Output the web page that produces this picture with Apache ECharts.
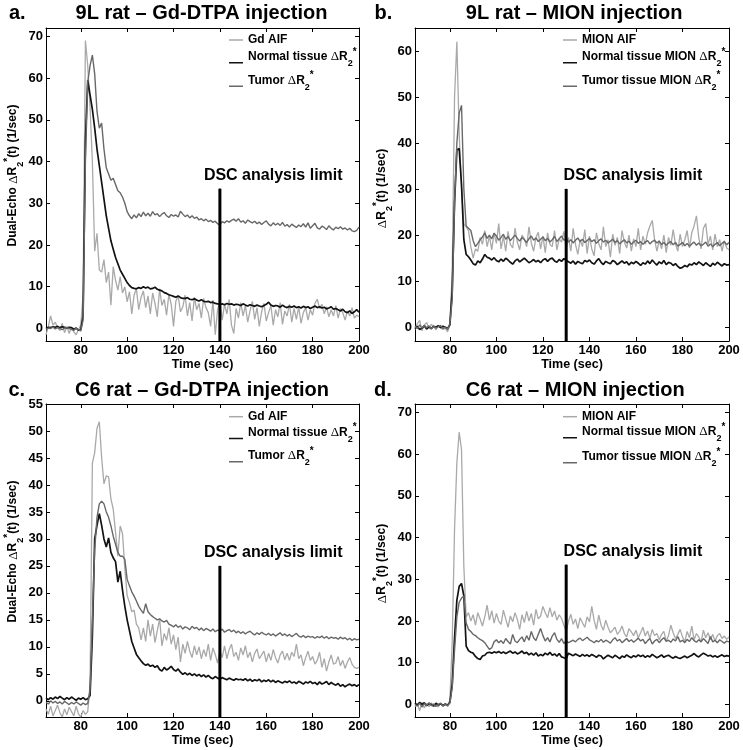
<!DOCTYPE html>
<html><head><meta charset="utf-8">
<script src="https://cdn.jsdelivr.net/npm/echarts@6/dist/echarts.min.js"></script>
<style>html,body{margin:0;padding:0;background:#fff}#c{width:743px;height:750px}</style>
</head><body><div id="c"></div>
<script>
// ---------- DATA ----------
const time = [65,66,67,68,69,
70,71,72,73,74,75,76,77,78,79,
80,81,82,83,84,85,86,87,88,89,
90,91,92,93,94,95,96,97,98,99,
100,101,102,103,104,105,106,107,108,109,
110,111,112,113,114,115,116,117,118,119,
120,121,122,123,124,125,126,127,128,129,
130,131,132,133,134,135,136,137,138,139,
140,141,142,143,144,145,146,147,148,149,
150,151,152,153,154,155,156,157,158,159,
160,161,162,163,164,165,166,167,168,169,
170,171,172,173,174,175,176,177,178,179,
180,181,182,183,184,185,186,187,188,189,
190,191,192,193,194,195,196,197,198,199,
200];

// Panel a: 9L rat - Gd-DTPA
const aAIF = [-1.5,0.5,3.0,0.8,1.5,
0.2,-0.5,1.2,-1.0,0.5,-1.2,0.3,-0.8,-1.5,-0.3,
0.8,8,69,63,53,40,18.5,22.8,14,13.5,
16.5,11,13.5,5.6,14.8,11.5,9.2,12.4,8.5,10,
6.4,8.8,3.5,8,9.5,4.5,7.5,9.0,5.0,7.8,
3.5,8.5,6.0,2.8,9.5,5.5,7.0,3.2,8.2,5.8,
0.5,6.5,7.8,4.0,5.2,8.0,3.0,6.2,1.8,7.5,
4.5,6.0,2.5,7.2,5.0,3.8,0.5,6.8,-1.5,4.5,
6.5,2.0,5.8,3.5,7.0,0.8,-1.2,4.8,2.5,6.2,
3.0,5.5,1.5,4.2,6.5,2.2,5.0,0.5,4.0,6.0,
1.8,3.8,5.5,0.8,4.5,2.8,6.2,1.0,4.2,3.0,
5.8,1.5,4.8,2.2,5.2,1.2,3.8,5.0,2.0,4.5,
3.2,6.0,7.0,4.8,5.8,3.5,5.2,2.8,4.5,3.0,
5.5,2.5,4.8,3.8,2.0,4.2,3.0,5.0,2.5,3.2,
2.8];
const aNormal = [0.0,0.3,0.2,0.4,0.3,
0.5,0.2,0.4,0.3,0.1,0.3,0.2,-0.2,0.1,-0.4,
-0.3,3,45,59.5,56,52.5,48,43,39,35,
31,27,24,21,19,17,15.5,14,13,12,
11,10.3,9.8,9.6,9.5,9.8,9.6,10.0,9.7,9.9,
9.5,9.6,9.9,9.4,9.2,9.0,8.6,8.4,8.1,7.9,
7.7,7.5,7.8,7.4,7.2,7.2,7.4,7.0,6.9,7.1,
6.8,6.6,6.9,6.5,6.4,6.5,6.2,6.3,6.0,5.9,
5.8,5.9,5.7,6.0,5.8,5.9,5.6,5.8,5.7,5.5,
5.9,5.6,5.4,5.7,5.5,5.3,5.6,5.4,5.2,5.5,
5.8,6.3,5.6,5.3,5.5,5.4,5.1,5.6,5.2,5.0,
5.3,5.1,5.4,5.0,5.2,4.9,5.3,5.0,5.2,4.8,
5.1,5.4,5.0,5.2,4.9,5.1,4.7,4.9,5.2,4.6,
4.8,4.5,4.2,4.6,4.0,3.8,4.2,3.6,4.0,4.5,
3.9];
const aTumor = [-0.2,0.1,0.0,0.3,-0.1,
0.2,0.0,-0.3,0.1,0.2,0.0,-0.2,-0.5,0.1,-0.3,
-0.6,2,40,59,63,65.5,61,52,48,49.2,
43,38.5,37,35.5,36,34.5,33,32.5,31.5,30,
28,27,26.3,27.2,26.5,27.5,26.8,27.9,27.0,27.6,
26.9,28.0,27.2,27.5,26.8,27.4,27.8,27.0,26.6,27.3,
26.9,27.2,26.7,28.1,27.4,26.8,27.2,26.5,27.0,26.4,
26.7,26.0,26.3,25.8,26.2,25.6,25.9,25.4,25.7,25.1,
24.9,25.6,25.3,25.8,25.5,25.9,26.2,25.7,26.3,25.5,
25.8,25.2,26.0,25.6,25.3,25.7,25.1,25.5,24.9,25.4,
25.8,25.0,24.6,25.3,24.8,25.2,24.7,25.4,24.5,24.9,
24.3,25.0,24.6,24.2,24.8,24.4,25.1,24.3,25.3,24.0,
24.6,25.2,24.1,23.8,24.5,24.2,23.7,24.6,24.0,23.6,
24.3,23.9,24.4,23.8,24.1,23.6,24.0,23.4,23.2,23.5,
24.3];

// Panel b: 9L rat - MION
const bAIF = [-0.5,0.8,1.5,-0.8,0.5,
1.0,-0.3,0.6,0.2,-0.6,0.4,0.0,-0.5,-0.2,-1.0,
0.5,12,50,62,42,30,22.5,21.8,21.0,17.5,
15.0,17.0,16.5,19.5,18.0,21.0,17.5,19.8,16.8,20.5,
18.2,22.5,17.0,19.8,16.5,20.8,18.0,17.2,21.5,18.5,
16.8,20.0,19.2,17.5,21.8,18.3,16.5,19.5,20.6,17.0,
19.8,16.2,20.5,18.0,17.5,21.0,16.8,19.2,18.5,20.8,
17.2,19.5,16.5,21.5,18.0,15.8,19.0,17.5,21.2,16.0,
19.8,17.0,15.5,20.5,18.2,16.8,21.8,17.5,19.0,15.2,
20.2,17.8,19.5,16.0,21.0,18.5,17.2,20.0,16.5,19.2,
17.5,21.5,16.8,19.8,18.0,20.5,22.0,23.2,19.0,16.5,
18.8,17.0,20.0,16.2,19.5,17.8,21.2,18.0,16.5,20.2,
17.5,19.0,21.0,17.2,20.5,22.0,24.2,19.5,17.0,21.5,
22.5,18.0,19.8,16.8,20.2,17.5,19.0,16.5,18.8,17.2,
16.8];
const bNormal = [-0.3,0.2,-0.5,-0.2,0.3,
-0.4,0.1,-0.3,0.2,0.0,0.3,-0.1,0.2,0.0,-0.3,
0.5,8,27,38.5,38.8,31,19,15.8,15.3,14.6,
13.8,13.5,14.4,14.0,14.8,15.8,15.2,15.0,14.6,15.1,
14.5,14.2,14.8,14.3,15.0,14.6,14.1,13.7,14.4,14.8,
14.2,14.6,15.0,14.5,14.0,14.3,14.7,14.2,14.5,14.0,
14.6,14.9,14.3,14.8,15.0,14.4,14.1,14.7,14.3,14.9,
14.5,14.2,13.9,14.4,13.7,14.3,14.0,13.8,14.5,14.2,
14.6,14.0,13.7,14.4,14.9,14.1,13.6,14.3,14.0,13.8,
14.5,14.2,13.6,14.0,14.4,13.9,14.2,13.5,14.1,13.8,
14.3,13.9,13.4,14.0,13.7,14.4,13.8,14.6,14.0,13.5,
14.2,13.8,14.5,13.6,14.1,13.9,13.4,13.8,13.2,12.8,
13.0,13.4,13.1,13.7,13.5,14.0,13.6,14.2,13.8,13.4,
14.0,13.6,13.2,13.9,13.5,14.1,13.7,13.3,13.8,13.5,
13.6];
const bTumor = [0.2,-0.3,0.5,-0.2,0.4,
-0.1,0.3,-0.4,0.2,-0.2,0.1,0.4,-0.3,0.0,-0.5,
0.8,6,27,40,46.5,48.2,30,22,21.5,21.0,
18.8,17.5,18.2,19.0,19.6,20.5,19.3,20.0,19.2,20.4,
19.8,18.9,19.5,20.2,19.1,19.7,18.8,19.4,20.0,19.3,
18.7,19.5,19.0,18.4,19.2,19.8,18.9,19.4,18.6,19.1,
19.6,18.8,19.3,18.5,19.0,19.7,18.6,19.2,19.8,18.9,
19.2,18.5,19.0,18.3,18.9,19.4,18.6,19.1,18.4,18.8,
19.3,18.6,19.0,18.2,18.8,19.2,18.5,18.9,18.3,18.7,
19.1,18.4,18.8,18.1,18.6,19.0,18.3,18.7,18.0,18.5,
18.9,18.2,18.6,18.0,18.5,18.8,18.1,18.6,18.9,18.3,
18.7,18.0,18.4,17.8,18.3,18.6,17.9,18.4,17.6,18.0,
18.4,17.7,18.2,17.6,18.1,18.5,17.8,18.3,17.7,18.0,
18.5,17.6,18.1,17.5,18.0,18.4,17.7,18.2,18.6,17.9,
18.4];

// Panel c: C6 rat - Gd-DTPA
const cAIF = [-1.5,-2.5,-1.0,-2.8,-1.8,
-0.8,-2.2,-3.0,-1.5,-2.6,-1.2,-2.0,-2.8,-1.0,-2.4,
-3.0,-1.8,-2.5,-2.0,3.0,44,46,50.5,51.7,45,
40.2,41.7,41.5,37.4,35.5,31.2,26.8,32.4,31.0,24.5,
19.5,18.2,16.5,16.8,14.2,13.5,11.3,13.5,11.0,15.0,
12.0,14.2,10.8,13.0,15.2,10.2,12.5,11.2,13.5,10.5,
12.2,9.5,11.8,7.2,10.5,8.8,11.0,9.2,8.0,10.2,
8.5,10.0,7.8,9.5,8.2,10.5,7.5,9.8,8.6,7.0,
9.2,8.0,10.2,7.8,9.5,10.5,8.2,9.0,7.5,9.8,
8.5,10.2,8.0,9.0,7.2,8.8,9.6,7.8,8.5,9.2,
7.2,8.8,7.5,9.5,8.0,7.0,8.5,9.2,7.6,8.8,
7.5,9.0,8.2,10.5,7.8,8.5,6.5,8.0,9.2,7.5,
8.2,6.8,7.5,9.0,6.2,7.8,5.5,7.2,8.5,6.8,
7.0,8.2,6.5,7.5,6.0,7.2,8.0,6.8,6.2,6.0,
6.2];
const cNormal = [0.5,0.2,0.6,0.3,0.7,
0.4,0.8,0.5,0.2,0.6,0.3,0.7,0.4,0.1,0.5,
0.3,0.6,0.2,0.4,1.0,12,30,32.5,34.7,32.5,
30,28.5,30.2,27.5,26.5,25.8,22,24,20.5,17.5,
15,13,11,9.8,8.6,8.0,7.4,6.9,6.6,6.8,
6.4,6.6,6.2,6.5,5.8,5.5,6.2,5.7,6.0,6.4,
5.8,5.5,5.9,5.3,4.9,5.2,4.8,5.1,4.7,5.0,
4.6,4.9,4.5,4.8,4.4,4.7,4.3,4.1,4.5,4.2,
4.0,4.3,4.1,3.9,4.2,4.0,3.8,4.1,3.9,4.0,
3.8,4.1,3.7,4.0,3.6,3.9,3.7,4.0,3.5,3.8,
3.6,3.9,3.5,3.8,3.4,3.7,3.5,3.3,3.6,3.4,
3.7,3.3,3.5,3.2,3.6,3.4,3.1,3.5,3.3,3.6,
3.2,3.4,3.0,3.5,3.1,3.3,3.6,3.0,3.4,3.1,
2.9,3.2,2.7,3.0,2.6,2.9,3.1,2.8,3.0,2.7,
3.0];
const cTumor = [-0.3,-0.6,0.0,-0.4,-0.1,
-0.5,-0.2,-0.6,-0.1,-0.4,-0.7,-0.3,-0.6,-0.2,-0.5,
-0.8,-0.4,-0.7,-0.5,2.0,15,28,34,36.5,37,
36.5,35,34,32.4,30.5,29,27.5,26.8,26.8,26.2,
22.5,21.3,20.2,19.4,18.5,17.5,16.8,16.2,18.0,16.5,
16.0,15.6,15.3,15.0,15.2,14.8,14.6,14.9,14.2,14.0,
13.7,14.1,13.6,13.9,13.3,13.7,13.5,13.2,13.8,13.4,
13.6,13.1,13.5,13.0,13.4,13.2,12.9,13.3,12.8,13.1,
12.9,13.3,12.7,13.0,13.2,12.8,13.1,12.6,12.9,12.5,
12.8,12.4,12.7,12.9,12.5,12.2,12.6,12.3,12.7,12.4,
12.2,12.5,12.1,12.4,12.0,12.3,12.6,12.1,12.4,12.0,
12.3,11.9,12.2,12.5,12.0,11.8,12.1,11.7,12.0,11.8,
11.9,11.6,11.9,11.7,12.0,11.6,11.9,11.5,11.8,11.6,
11.7,11.4,11.8,11.5,11.7,11.3,11.6,11.2,11.5,11.3,
11.4];

// Panel d: C6 rat - MION
const dAIF = [-0.5,0.3,-1.5,0.5,-0.8,
0.2,-0.5,0.4,-0.3,0.1,-0.6,0.3,-0.2,0.0,-0.4,
1.0,15,42,58,65.3,61,33,21,22,20,
21.5,19.0,22.0,20.5,18.8,21.0,23.8,20.2,22.5,19.5,
21.8,20.0,19.2,22.6,20.5,18.5,21.2,19.8,22.0,20.4,
18.0,21.5,19.6,22.3,20.0,21.8,19.0,22.8,20.5,21.2,
23.5,22.0,20.8,23.2,21.0,22.4,20.2,21.5,20.6,19.0,
17.5,20.0,21.6,19.2,20.5,18.2,20.8,19.6,18.5,21.0,
19.8,23.5,20.2,18.0,21.4,19.0,17.8,20.2,18.5,17.2,
17.8,18.5,16.8,17.5,18.8,17.0,16.2,18.2,17.4,16.5,
17.8,16.0,17.2,18.5,16.4,17.6,15.8,18.0,16.5,17.0,
15.5,16.8,17.5,15.2,16.5,19.0,17.2,15.8,16.8,18.0,
16.2,15.0,17.5,16.0,18.8,15.5,17.0,16.2,15.0,17.8,
16.0,17.2,15.5,16.8,15.2,16.5,17.0,15.8,16.4,15.6,
16.2];
const dNormal = [0.3,-0.2,0.5,0.0,0.4,
-0.3,0.2,0.0,-0.4,0.3,-0.1,0.2,-0.3,0.1,-0.2,
0.5,5,16,25,28.3,29,26,14,12.9,12.5,
12.3,11.5,11.0,10.8,11.6,11.8,12.4,12.5,12.3,12.6,
12.4,12.7,12.3,12.6,12.2,12.5,12.8,12.3,12.6,12.1,
12.4,12.8,12.2,12.5,11.9,12.3,11.8,12.4,11.6,12.0,
11.7,12.3,11.9,12.5,11.8,12.1,11.6,12.2,11.4,11.2,
11.0,12.3,12.0,11.7,12.1,11.8,11.5,12.0,11.6,11.9,
11.5,12.0,11.7,11.3,11.8,11.6,10.9,11.4,11.8,11.5,
11.2,11.8,11.4,11.0,11.6,11.3,11.9,11.5,11.2,11.7,
11.4,11.9,11.5,11.8,11.3,11.7,11.4,12.0,11.6,11.2,
11.5,11.9,11.3,11.6,11.8,11.4,11.1,11.5,11.2,11.0,
11.3,11.6,11.2,11.5,11.8,12.2,11.7,11.4,11.9,12.3,
12.0,11.6,11.8,11.4,11.7,11.3,11.6,11.9,11.5,11.7,
11.6];
const dTumor = [0.0,-0.4,0.3,-0.6,0.2,
-0.2,0.4,-0.3,0.1,-0.5,0.0,0.3,-0.4,0.2,-0.3,
0.4,4,13,21,24.5,25.5,26,19.5,18,17.5,
16.8,16.5,16.0,15.6,15.3,14.8,14.0,13.2,13.6,15.0,
15.5,14.8,15.3,14.6,15.8,15.1,14.5,16.8,15.2,14.8,
15.6,16.2,15.0,16.5,15.4,17.5,16.0,15.3,16.8,18.2,
16.5,15.2,16.0,15.0,16.4,17.2,15.6,14.9,15.8,14.6,
15.2,14.8,15.1,15.4,15.0,15.6,15.9,15.3,15.7,16.1,
15.5,15.2,14.8,15.3,15.0,15.6,14.9,15.4,15.1,14.7,
15.5,16.0,15.2,15.6,14.8,15.3,15.8,15.1,15.5,14.9,
15.4,15.9,15.2,15.6,14.6,15.3,15.8,14.5,15.2,15.6,
14.8,15.5,16.0,15.1,15.4,14.9,15.7,15.2,16.3,15.0,
15.4,14.8,15.6,15.1,16.0,15.3,14.9,15.5,15.0,15.8,
15.2,14.6,16.3,15.0,15.4,14.8,15.5,15.1,14.7,15.2,
15.0];

const panelLetters = ['a.', 'b.', 'c.', 'd.'];
const panelTitles = ['9L rat \u2013 Gd-DTPA injection', '9L rat \u2013 MION injection',
                     'C6 rat \u2013 Gd-DTPA injection', 'C6 rat \u2013 MION injection'];
const xTicks = [80, 100, 120, 140, 160, 180, 200];
const xMin = 65, xMax = 200;
const yMin = [-3, -3, -3, -3];
const yMax = [72, 65, 55, 72];
const yTicksA = [0, 10, 20, 30, 40, 50, 60, 70];
const yTicksB = [0, 10, 20, 30, 40, 50, 60];
const yTicksC = [0, 5, 10, 15, 20, 25, 30, 35, 40, 45, 50, 55];
const yTicksD = [0, 10, 20, 30, 40, 50, 60, 70];
const dscX = [140, 130, 140, 130];
const dscTop = [33.5, 30, 25, 33.5];
const dscText = 'DSC analysis limit';
const xName = 'Time (sec)';
const yNameGd = 'Dual-Echo {d|\u0394}R{sub|2}{sup|*}(t) (1/sec)';
const yNameMion = '{d|\u0394}R{sub|2}{sup|*}(t) (1/sec)';
const legendGd = ['Gd AIF', 'Normal tissue {d|\u0394}R{sub|2}{sup|*}', 'Tumor {d|\u0394}R{sub|2}{sup|*}'];
const legendMion = ['MION AIF', 'Normal tissue MION {d|\u0394}R{sub|2}{sup|*}', 'Tumor tissue MION {d|\u0394}R{sub|2}{sup|*}'];

// ---------- LAYOUT / STYLE ----------
const FONT = 'Liberation Sans';
const panels = [
  {series: [aAIF, aNormal, aTumor], yTicks: yTicksA, yName: yNameGd, legend: legendGd,
   grid: {left: 46, top: 28, width: 313, height: 313}, titleX: 201.5, letterX: 9, titleTop: 3,
   yNamePad: [0, 0, 0, 18], yNameGap: 19, dscOff: -16, legLeft: 229, legTops: [34, 46.8, 70.2]},
  {series: [bAIF, bNormal, bTumor], yTicks: yTicksB, yName: yNameMion, legend: legendMion,
   grid: {left: 415, top: 28, width: 314, height: 313}, titleX: 574.2, letterX: 374.5, titleTop: 3,
   yNamePad: [0, 8, 0, 0], yNameGap: 17, dscOff: -2.6, legLeft: 563, legTops: [34, 46.8, 70.2]},
  {series: [cAIF, cNormal, cTumor], yTicks: yTicksC, yName: yNameGd, legend: legendGd,
   grid: {left: 46, top: 404, width: 313, height: 313}, titleX: 202, letterX: 8.5, titleTop: 380.5,
   yNamePad: [0, 0, 0, 18], yNameGap: 19, dscOff: -16, legLeft: 229, legTops: [410.7, 422.5, 445.8]},
  {series: [dAIF, dNormal, dTumor], yTicks: yTicksD, yName: yNameMion, legend: legendMion,
   grid: {left: 415, top: 404, width: 314, height: 313}, titleX: 575.3, letterX: 374, titleTop: 380.5,
   yNamePad: [0, 6, 0, 0], yNameGap: 17, dscOff: -2.6, legLeft: 563, legTops: [410.7, 421.8, 446.8]}
];
const lineColors = ['#a9a9a9', '#121212', '#686868'];
const lineWidths = [1.3, 1.7, 1.4];
const OFFSET_ICON = 'path://M0,0L0.01,0L0.01,0.01ZM0,12L15,12L15,13.5L0,13.5Z';

const rich = {
  d: {fontFamily: 'Liberation Serif', fontWeight: 'normal', fontSize: 13, color: '#000'},
  sub: {fontFamily: FONT, fontWeight: 'bold', fontSize: 9, color: '#000', padding: [14, 0, 0, 0]},
  sup: {fontFamily: FONT, fontWeight: 'bold', fontSize: 10, color: '#000', padding: [0, 0, 10, 0]}
};
const baseText = {fontFamily: FONT, fontWeight: 'bold', color: '#000'};

const option = {
  animation: false,
  backgroundColor: '#fff',
  title: [], grid: [], xAxis: [], yAxis: [], legend: [], series: []
};

panels.forEach((p, i) => {
  option.title.push({text: panelLetters[i], left: p.letterX, top: p.titleTop, padding: 0,
    textVerticalAlign: 'top', textStyle: Object.assign({fontSize: 20}, baseText)});
  option.title.push({text: panelTitles[i], left: p.titleX, top: p.titleTop, padding: 0, textAlign: 'center',
    textVerticalAlign: 'top', textStyle: Object.assign({fontSize: 20}, baseText)});
  option.grid.push(Object.assign({containLabel: false}, p.grid));
  const tick = {show: true, inside: true, length: 4, lineStyle: {color: '#000', width: 1}};
  const line = {show: true, onZero: false, lineStyle: {color: '#000', width: 1}};
  option.xAxis.push({type: 'value', gridIndex: i, position: 'bottom', min: xMin, max: xMax,
    axisLine: line, axisTick: Object.assign({customValues: xTicks}, tick), splitLine: {show: false},
    axisLabel: Object.assign({customValues: xTicks, fontSize: 13, margin: 3}, baseText),
    name: xName, nameLocation: 'middle', nameGap: 15,
    nameTextStyle: Object.assign({fontSize: 12.5}, baseText)});
  option.xAxis.push({type: 'value', gridIndex: i, position: 'top', min: xMin, max: xMax,
    axisLine: line, axisTick: Object.assign({customValues: xTicks}, tick), splitLine: {show: false},
    axisLabel: {show: false}});
  option.yAxis.push({type: 'value', gridIndex: i, position: 'left', min: yMin[i], max: yMax[i],
    axisLine: line, axisTick: Object.assign({customValues: p.yTicks}, tick), splitLine: {show: false},
    axisLabel: Object.assign({customValues: p.yTicks, fontSize: 13, margin: 3}, baseText),
    name: p.yName, nameLocation: 'middle', nameGap: p.yNameGap, nameRotate: 90,
    nameTextStyle: Object.assign({fontSize: 12, padding: p.yNamePad, rich: rich}, baseText)});
  option.yAxis.push({type: 'value', gridIndex: i, position: 'right', min: yMin[i], max: yMax[i],
    axisLine: line, axisTick: Object.assign({customValues: p.yTicks}, tick), splitLine: {show: false},
    axisLabel: {show: false}});

  p.series.forEach((vals, k) => {
    const name = 'p' + i + 's' + k;
    option.series.push({
      type: 'line', name: name, xAxisIndex: 2 * i, yAxisIndex: 2 * i,
      data: time.map((t, j) => [t, vals[j]]),
      showSymbol: false, symbol: 'none', clip: true, z: 2 + k,
      color: lineColors[k], itemStyle: {color: lineColors[k]},
      lineStyle: {color: lineColors[k], width: lineWidths[k]}
    });
    option.legend.push({
      show: true, orient: 'vertical', left: p.legLeft, top: p.legTops[k], padding: 0,
      itemWidth: 14, itemHeight: k === 0 ? 1.5 : 13.5, symbolKeepAspect: false, selectedMode: false,
      itemStyle: {borderWidth: 0},
      data: [{name: name, icon: k === 0 ? 'rect' : OFFSET_ICON}],
      formatter: () => p.legend[k],
      textStyle: Object.assign({fontSize: 12, rich: rich}, baseText)
    });
  });

  option.series.push({
    type: 'line', name: 'dsc' + i, xAxisIndex: 2 * i, yAxisIndex: 2 * i, z: 10,
    data: [[dscX[i], yMin[i]], {value: [dscX[i], dscTop[i]],
      label: {show: true, formatter: dscText, position: 'top', distance: 5, align: 'left',
        offset: [p.dscOff, 0], fontSize: 16, fontWeight: 'bold', fontFamily: FONT, color: '#000'}}],
    symbol: 'circle', symbolSize: 1, showSymbol: true, color: '#000',
    itemStyle: {color: '#000'}, lineStyle: {color: '#000', width: 3}, silent: true
  });
});

const chart = echarts.init(document.getElementById('c'), null, {renderer: 'canvas'});
chart.setOption(option);
</script>
</body></html>
